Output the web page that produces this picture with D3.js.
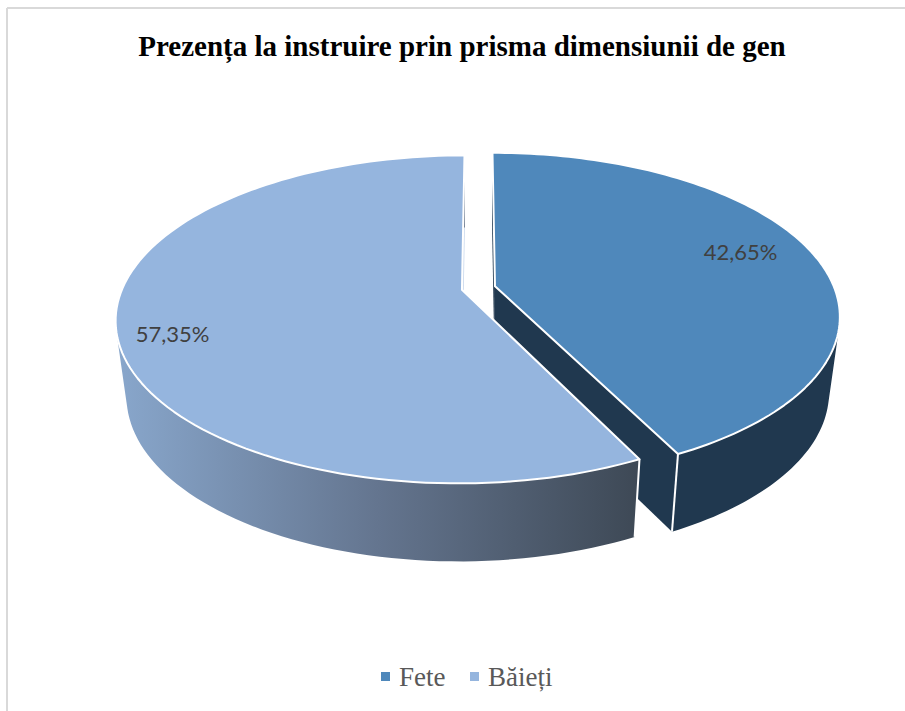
<!DOCTYPE html>
<html>
<head>
<meta charset="utf-8">
<script src="https://d3js.org/d3.v7.min.js"></script>
<style>
  body { margin: 0; background: #fff; }
  svg { display: block; }
</style>
</head>
<body>
<div id="chart"></div>
<script>
// Chart data
const title = "Prezența la instruire prin prisma dimensiunii de gen";
const categories = ["Fete", "Băieți"];
const values = [42.65, 57.35];
const valueLabels = ["42,65%", "57,35%"];

const width = 905;
const height = 711;

const svg = d3.select("#chart")
    .append("svg")
    .attr("width", width)
    .attr("height", height);

// Colours
const topColor = d3.scaleOrdinal().domain(categories).range(["#4f88bb", "#95b5de"]);
const wallColor = d3.scaleOrdinal().domain(categories).range(["#20384f", "#c9d8ec"]);

// Gradient for the side of the big slice
const defs = svg.append("defs");
const grad = defs.append("linearGradient")
    .attr("id", "sideGrad")
    .attr("gradientUnits", "userSpaceOnUse")
    .attr("x1", 120).attr("x2", 636).attr("y1", 0).attr("y2", 0);
grad.append("stop").attr("offset", "0%").attr("stop-color", "#88a6cb");
grad.append("stop").attr("offset", "50%").attr("stop-color", "#64758f");
grad.append("stop").attr("offset", "100%").attr("stop-color", "#3e4956");

// Chart frame (only top and left show)
svg.append("line").attr("x1", 7).attr("x2", width).attr("y1", 8).attr("y2", 8)
    .attr("stroke", "#d9d9d9").attr("stroke-width", 2);
svg.append("line").attr("x1", 7).attr("x2", 7).attr("y1", 8).attr("y2", height)
    .attr("stroke", "#d9d9d9").attr("stroke-width", 2);

// Scales from the unit pie plane to the page
const xScale = d3.scaleLinear().domain([-1, 1]).range([478.5 - 339.4, 478.5 + 339.4]);
const yScale = d3.scaleLinear().domain([-1, 1]).range([288 - 158, 288 + 158]);
const perspective = 0.18;
const explode = 0.05;

// Project a plane point (u right, v towards viewer) on the top face
function projectTop(u, v) {
    const w = 1 - perspective * v;
    return [xScale(u / w), yScale(v / w)];
}

// Same point on the bottom face, pushed down and slightly pulled in
function projectBottom(u, v) {
    const p = projectTop(u, v);
    return [xScale(0) + (p[0] - xScale(0)) * 0.97, p[1] + 75 + 3 * v];
}

const pie = d3.pie().sort(null).startAngle(0).endAngle(2 * Math.PI);
const slices = pie(values).map((d, i) => {
    const mid = (d.startAngle + d.endAngle) / 2;
    return {
        name: categories[i],
        label: valueLabels[i],
        start: d.startAngle,
        end: d.endAngle,
        mid: mid,
        cu: explode * Math.sin(mid),
        cv: -explode * Math.cos(mid)
    };
});

const line = d3.line();

function planePoint(s, a, r) {
    return [s.cu + r * Math.sin(a), s.cv - r * Math.cos(a)];
}

function arcPoints(s, project) {
    return d3.range(0, 121).map(k => {
        const a = s.start + (s.end - s.start) * k / 120;
        return project(...planePoint(s, a, 1));
    });
}

// Outer side as one path of small quads, all wound the same way so the tangent edge stays filled
function sidePath(s) {
    const upper = arcPoints(s, projectTop);
    const lower = arcPoints(s, projectBottom);
    return d3.range(0, 120).map(k => {
        const quad = [upper[k], upper[k + 1], lower[k + 1], lower[k]];
        if (d3.polygonArea(quad) < 0) quad.reverse();
        return line(quad) + "Z";
    }).join("");
}

// Draw one slice: walls, outer side, seam, then top face
function drawSlice(s, sideFill) {
    const g = svg.append("g").attr("class", "slice");
    [s.start, s.end].forEach(a => {
        const outer = planePoint(s, a, 1);
        const quad = [
            projectTop(s.cu, s.cv),
            projectTop(...outer),
            projectBottom(...outer),
            projectBottom(s.cu, s.cv)
        ];
        g.append("path")
            .attr("d", line(quad) + "Z")
            .attr("fill", wallColor(s.name));
    });

    g.append("path")
        .attr("d", sidePath(s))
        .attr("fill", sideFill);

    // White seam where the side ends at the cut
    const cut = planePoint(s, s.name === categories[0] ? s.end : s.start, 1);
    g.append("path")
        .attr("d", line([projectTop(...cut), projectBottom(...cut)]))
        .attr("fill", "none")
        .attr("stroke", "#fff")
        .attr("stroke-width", 2);

    const top = [projectTop(s.cu, s.cv)].concat(arcPoints(s, projectTop));
    g.append("path")
        .attr("d", line(top) + "Z")
        .attr("fill", topColor(s.name))
        .attr("stroke", "#fff")
        .attr("stroke-width", 2)
        .attr("stroke-linejoin", "round");
}

drawSlice(slices[0], wallColor(categories[0]));
drawSlice(slices[1], "url(#sideGrad)");

// Value labels
const labelRadius = [0.79, 0.85];
const labelShift = [-0.06, -0.085];
slices.forEach((s, i) => {
    const p = projectTop(...planePoint(s, s.mid + labelShift[i], labelRadius[i]));
    svg.append("text")
        .attr("x", p[0])
        .attr("y", p[1])
        .attr("dy", "0.35em")
        .attr("text-anchor", "middle")
        .style("font-family", "Lato, Carlito, sans-serif")
        .style("font-size", "22px")
        .style("fill", "#404040")
        .text(s.label);
});

// Title
svg.append("text")
    .attr("x", 462)
    .attr("y", 56)
    .attr("text-anchor", "middle")
    .style("font-family", "'Liberation Serif', serif")
    .style("font-weight", "bold")
    .style("font-size", "29px")
    .style("fill", "#000")
    .text(title);

// Legend
const legendX = d3.scaleOrdinal().domain(categories).range([381, 470]);
categories.forEach(c => {
    svg.append("rect")
        .attr("x", legendX(c))
        .attr("y", 672)
        .attr("width", 9)
        .attr("height", 9)
        .attr("fill", topColor(c));
    svg.append("text")
        .attr("x", legendX(c) + 18)
        .attr("y", 686)
        .style("font-family", "'Liberation Serif', serif")
        .style("font-size", "27px")
        .style("fill", "#595959")
        .text(c);
});
</script>
</body>
</html>
